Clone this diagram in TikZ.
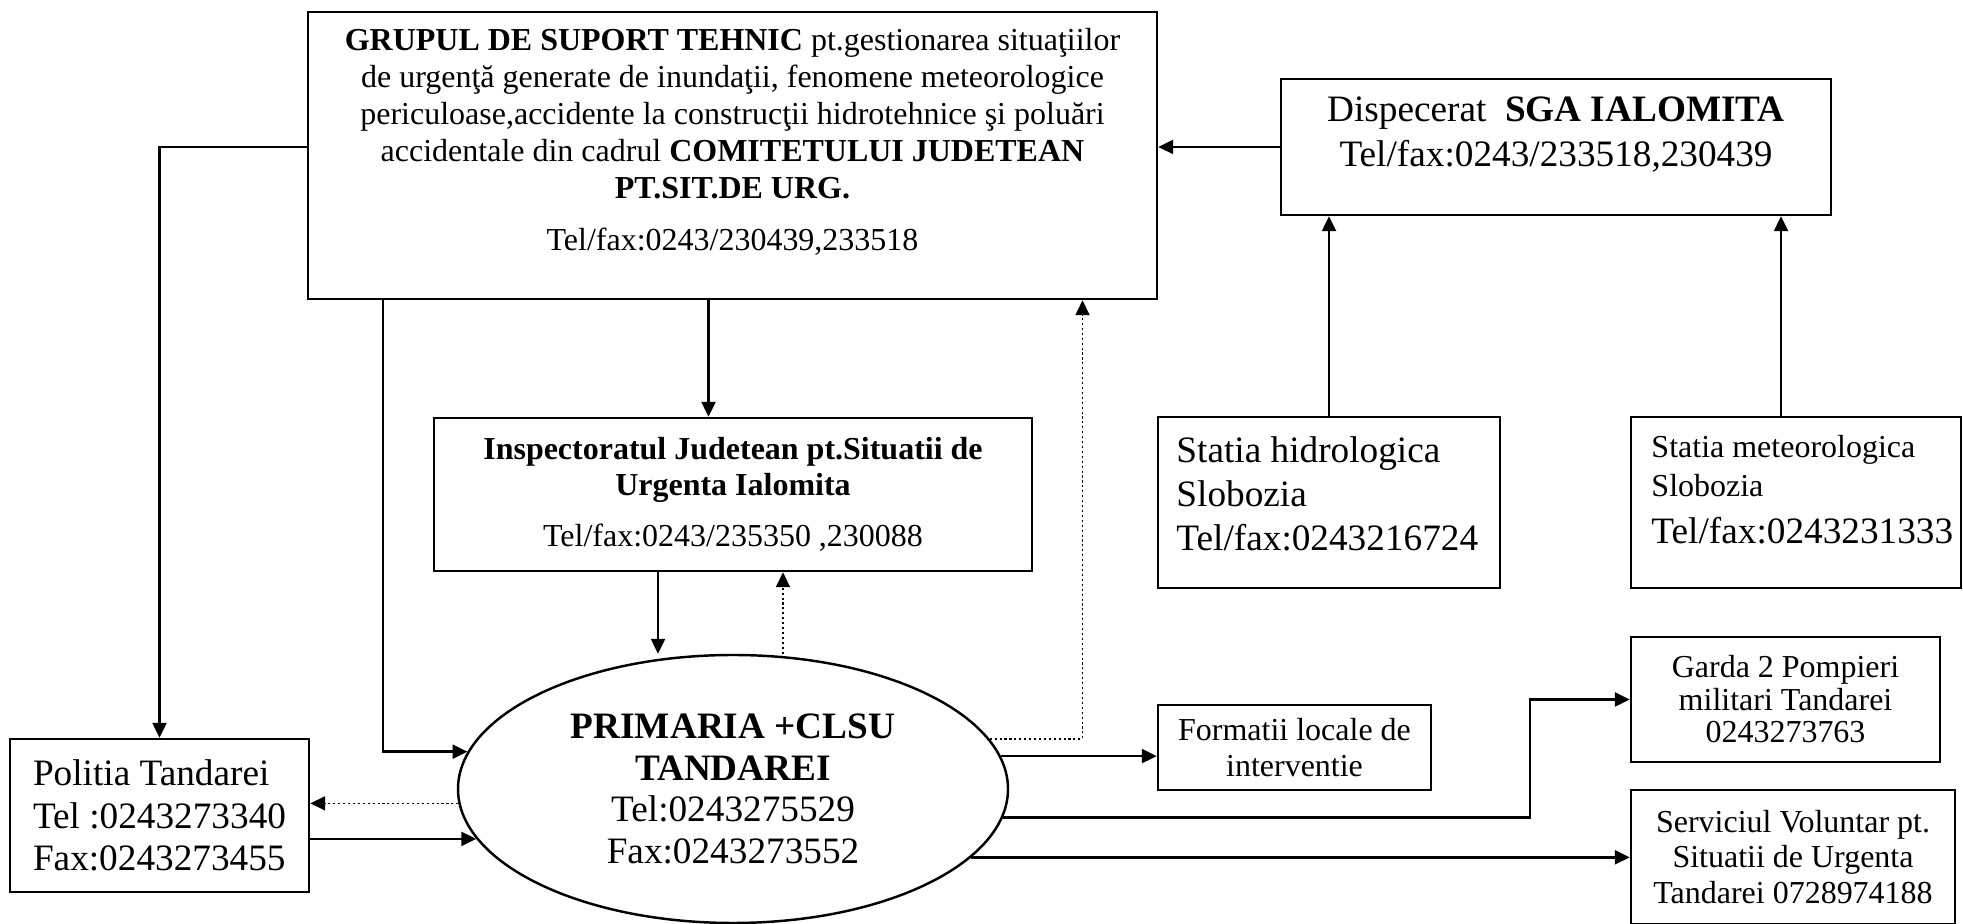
\documentclass[tikz,border=0pt]{standalone}
\usepackage{fontspec}
\setmainfont{Liberation Serif}
\usetikzlibrary{arrows.meta,shapes.geometric}

\newcommand{\txtsmall}{\fontsize{9.1}{10.5}\selectfont}
\newcommand{\txtlarge}{\fontsize{10.6}{12.2}\selectfont}

\begin{document}
\begin{tikzpicture}
    \tikzset{box/.style={draw, line width=0.7pt, inner sep=0pt, align=center},
             txt/.style={inner sep=0pt, align=center},
             arr/.style={line width=0.7pt, -{Triangle[length=1.5mm, width=1.4mm]}},
             dotarr/.style={arr, line width=0.5pt, dash pattern=on 0.6pt off 0.8pt}}

    \useasboundingbox (0,0) rectangle (19.63,9.24);

    % upper row
    \node (grupul) at (7.325,7.685) [box, minimum width=8.49cm, minimum height=2.87cm] {};
    \node (grupul text) at ([yshift=1.35mm]grupul.center) [txt, font=\txtsmall]
        {\textbf{GRUPUL DE SUPORT TEHNIC} pt.gestionarea situaţiilor\\
         de urgenţă generate de inundaţii, fenomene meteorologice\\
         periculoase,accidente la construcţii hidrotehnice şi poluări\\
         accidentale din cadrul \textbf{COMITETULUI JUDETEAN}\\
         \textbf{PT.SIT.DE URG.}\\[4.3pt]
         Tel/fax:0243/230439,233518};
    \node (sga) at (15.56,7.77) [box, minimum width=5.5cm, minimum height=1.36cm] {};
    \node (sga text) at ([yshift=1.25mm]sga.center) [txt, font={\fontsize{10.6}{12.8}\selectfont}]
        {Dispecerat~~\textbf{SGA IALOMITA}\\Tel/fax:0243/233518,230439};

    % middle row
    \node (isu) at (7.33,4.295) [box, minimum width=5.98cm, minimum height=1.53cm,
        font={\fontsize{9.1}{10.2}\selectfont}]
        {\textbf{Inspectoratul Judetean pt.Situatii de}\\\textbf{Urgenta Ialomita}\\[4.3pt]
         Tel/fax:0243/235350 ,230088};
    \node (hidro) at (13.29,4.215) [box, minimum width=3.42cm, minimum height=1.71cm] {};
    \node (hidro text) at ([xshift=1.9mm,yshift=0.85mm]hidro.west) [txt, anchor=west, align=left,
        font={\fontsize{10.6}{12.5}\selectfont}]
        {Statia hidrologica\\Slobozia\\Tel/fax:0243216724};
    \node (meteo) at (17.96,4.215) [box, minimum width=3.3cm, minimum height=1.71cm] {};
    \node (meteo text) at ([xshift=2.1mm,yshift=1.25mm]meteo.west) [txt, anchor=west, align=left,
        font={\fontsize{9.1}{11.1}\selectfont}]
        {Statia meteorologica\\Slobozia\\[2.2pt]{\txtlarge Tel/fax:0243231333}};

    % lower row
    \node (primaria) at (7.33,1.35) [box, ellipse, minimum width=5.5cm, minimum height=2.68cm,
        font={\fontsize{10.6}{11.9}\selectfont}]
        {\textbf{PRIMARIA +CLSU}\\\textbf{TANDAREI}\\Tel:0243275529\\Fax:0243273552};
    \node (politia) at (1.595,1.085) [box, align=left, minimum width=2.99cm, minimum height=1.53cm,
        font={\fontsize{10.6}{12.1}\selectfont}]
        {Politia Tandarei\\Tel :0243273340\\Fax:0243273455};
    \node (formatii) at (12.945,1.765) [box, minimum width=2.73cm, minimum height=0.85cm,
        font={\fontsize{9.1}{10}\selectfont}]
        {Formatii locale de\\interventie};
    \node (garda) at (17.855,2.245) [box, minimum width=3.09cm, minimum height=1.25cm,
        font={\fontsize{9.1}{9.25}\selectfont}]
        {Garda 2 Pompieri\\militari Tandarei\\0243273763};
    \node (serviciul) at (17.93,0.67) [box, minimum width=3.24cm, minimum height=1.34cm,
        font={\fontsize{9.1}{10.1}\selectfont}]
        {Serviciul Voluntar pt.\\Situatii de Urgenta\\Tandarei 0728974188};

    % connectors
    \draw[arr] (sga.west) -- (sga.west -| grupul.east);
    \draw[arr] (hidro.north) -- (hidro.north |- sga.south);
    \draw[arr] ([xshift=-1.5mm]meteo.north) -- ([xshift=-1.5mm]meteo.north |- sga.south);
    \draw[arr] (sga.west -| grupul.west) -| (politia.north);
    \draw[arr] ([xshift=7.6mm]grupul.south west) |- (primaria.172.7);
    \draw[arr] ([xshift=-2.4mm]grupul.south) -- ([xshift=-2.4mm]grupul.south |- isu.north);
    \draw[arr] ([xshift=-7.5mm]isu.south) -- ([xshift=-7.5mm]isu.south |- primaria.north);
    \draw[dotarr] ([xshift=5mm]isu.south |- primaria.north) -- ([xshift=5mm]isu.south);
    \draw[dotarr] (primaria.11.1) -| ([xshift=3.5cm]grupul.south);
    \draw[dotarr] (primaria.183.8) -- (primaria.183.8 -| politia.east);
    \draw[arr] (primaria.191.4 -| politia.east) -- (primaria.191.4);
    \draw[arr] (primaria.7) -- (primaria.7 -| formatii.west);
    \draw[arr] (primaria.-6.4) -| ([xshift=-1cm]garda.west) -- (garda.west);
    \draw[arr] (primaria.-16) -- (primaria.-16 -| serviciul.west);
\end{tikzpicture}
\end{document}
